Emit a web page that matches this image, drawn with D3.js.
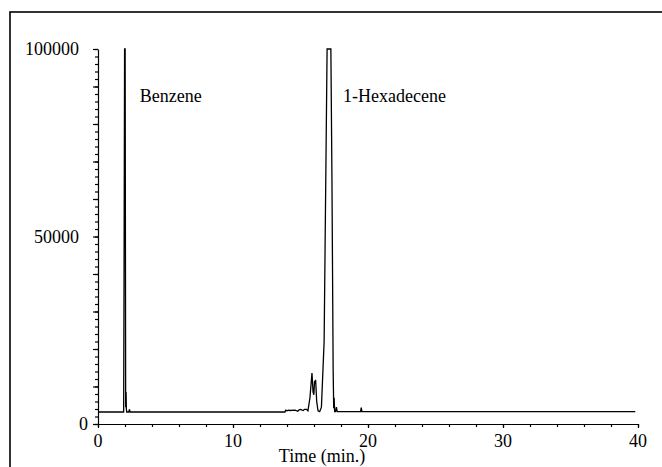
<!DOCTYPE html>
<html lang="en">
<head>
<meta charset="utf-8" />
<style>
  body { margin: 0; background: #fff; }
  text { font-family: "Liberation Serif", "Times New Roman", serif; fill: #000; }
  .trace { fill: none; stroke: #000; stroke-width: 1.3px; }
  .axis path, .axis line { stroke: #000; stroke-width: 1.2px; }
</style>
</head>
<body>
<svg width="662" height="467"></svg>
<script src="https://d3js.org/d3.v7.min.js"></script>
<script>
// chromatogram, time in min, signal in counts (clipped at 100000)
var times = [0, 1.9, 1.93, 1.97, 2.01, 2.05, 2.08, 2.1, 2.13, 2.28, 2.33, 2.38,
  13.85, 13.9, 14.0, 14.1, 14.2, 14.6, 14.8, 14.9, 15.0, 15.2, 15.3, 15.45, 15.55,
  15.7, 15.85, 15.93, 15.99, 16.04, 16.08, 16.12, 16.2, 16.3, 16.42, 16.55,
  16.75, 16.9, 16.97, 17.25, 17.33, 17.42, 17.46, 17.49, 17.53, 17.6, 17.66, 17.72,
  19.45, 19.5, 19.55, 39.8];
var signal = [3200, 3200, 40000, 100000, 100000, 4500, 8500, 4000, 3200, 3200, 3900, 3200,
  3200, 3700, 3500, 3700, 3600, 3700, 3400, 3800, 3900, 3600, 3900, 3900, 3500,
  7000, 13600, 8500, 7800, 11500, 10800, 11800, 6000, 3500, 3300, 4500,
  22000, 75000, 100000, 100000, 65000, 14000, 4200, 7000, 3300, 3300, 4500, 3300,
  3300, 4400, 3300, 3300];
var labels = ["Benzene", "1-Hexadecene"];
var labelTimes = [3.1, 18.15];
var yTickLabels = [0, 50000, 100000];
var xTickLabels = [0, 10, 20, 30, 40];

var svg = d3.select("svg");

// outer frame
svg.append("rect")
  .attr("x", 10).attr("y", 12)
  .attr("width", 700).attr("height", 500)
  .attr("fill", "none").attr("stroke", "#000").attr("stroke-width", 1.6);

var x = d3.scaleLinear().domain([0, 40]).range([98, 638]);
var y = d3.scaleLinear().domain([0, 100000]).range([424, 49]);

// y axis: minor ticks every 2000, major every 10000
svg.append("g").attr("class", "axis")
  .attr("transform", "translate(98,0)")
  .call(d3.axisLeft(y).tickValues(d3.range(0, 100001, 2000)).tickSize(3).tickSizeOuter(0).tickFormat(""));
svg.append("g").attr("class", "axis")
  .attr("transform", "translate(98,0)")
  .call(d3.axisLeft(y).tickValues(d3.range(0, 100001, 10000)).tickSize(5).tickSizeOuter(0).tickFormat(""))
  .select(".domain").remove();
svg.append("g")
  .selectAll("text").data(yTickLabels).join("text")
  .attr("x", function(d) { return d === 0 ? 88 : 79; })
  .attr("y", function(d) { return y(d) + 6; })
  .attr("text-anchor", "end")
  .attr("font-size", 18)
  .text(function(d) { return d; });

// x axis: minor ticks every 2 min
svg.append("g").attr("class", "axis")
  .attr("transform", "translate(0,424)")
  .call(d3.axisBottom(x).tickValues(d3.range(0, 41, 2)).tickSize(3).tickSizeOuter(0).tickFormat(""));
svg.append("g").attr("class", "axis")
  .attr("transform", "translate(0,424)")
  .call(d3.axisBottom(x).tickValues(xTickLabels).tickSize(4).tickSizeOuter(0).tickFormat(""))
  .select(".domain").remove();
svg.append("g")
  .selectAll("text").data(xTickLabels).join("text")
  .attr("x", function(d) { return x(d); })
  .attr("y", 447)
  .attr("text-anchor", "middle")
  .attr("font-size", 18)
  .text(function(d) { return d; });

svg.append("text")
  .attr("x", 322).attr("y", 462)
  .attr("text-anchor", "middle")
  .attr("font-size", 18)
  .text("Time (min.)");

// trace
var pts = times.map(function(t, i) { return [t, Math.min(signal[i], 100000)]; });
svg.append("path")
  .attr("class", "trace")
  .attr("d", d3.line().x(function(d) { return x(d[0]); }).y(function(d) { return y(d[1]); })(pts));

// peak labels
svg.append("g")
  .selectAll("text").data(labels).join("text")
  .attr("x", function(d, i) { return x(labelTimes[i]); })
  .attr("y", 102)
  .attr("font-size", 18)
  .text(function(d) { return d; });
</script>
</body>
</html>
